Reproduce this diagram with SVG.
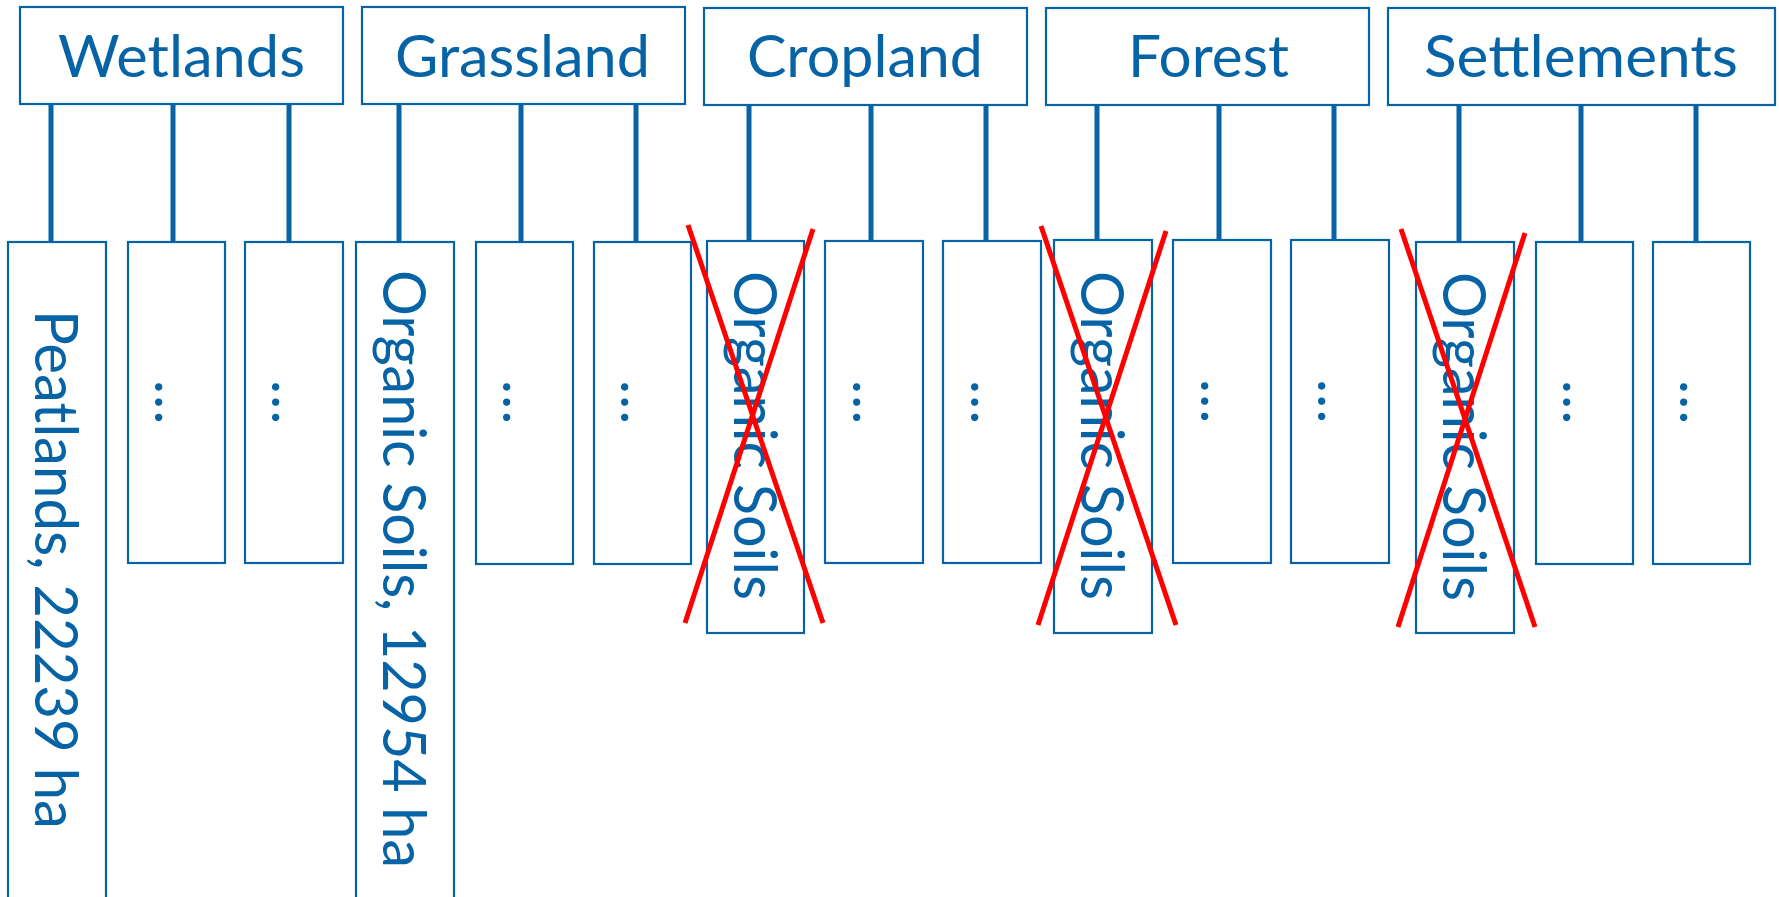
<svg xmlns="http://www.w3.org/2000/svg" width="1779" height="897" viewBox="0 0 1779 897">
  <style>
    .box { fill: #ffffff; stroke: #0663A6; stroke-width: 2.2; }
    .link { stroke: #0663A6; stroke-width: 5; fill: none; }
    .cross { stroke: #FF0000; stroke-width: 5; stroke-linecap: butt; fill: none; }
    .lbl { font-family: Lato, "Open Sans", "Liberation Sans", sans-serif; fill: #0663A6; }
    .head { font-size: 59px; text-anchor: start; }
    .vert { font-size: 60px; text-anchor: start; }
    .dots { font-size: 59px; text-anchor: middle; }
  </style>

  <!-- connectors from category headers down to their sub-boxes -->
  <g id="connectors">
    <line class="link" x1="51" y1="104" x2="51" y2="242"/>
    <line class="link" x1="173" y1="104" x2="173" y2="242"/>
    <line class="link" x1="289" y1="104" x2="289" y2="242"/>
    <line class="link" x1="399" y1="104" x2="399" y2="242"/>
    <line class="link" x1="521" y1="104" x2="521" y2="242"/>
    <line class="link" x1="636" y1="104" x2="636" y2="242"/>
    <line class="link" x1="749" y1="105" x2="749" y2="241"/>
    <line class="link" x1="871" y1="105" x2="871" y2="241"/>
    <line class="link" x1="986" y1="105" x2="986" y2="241"/>
    <line class="link" x1="1097" y1="105" x2="1097" y2="240"/>
    <line class="link" x1="1219" y1="105" x2="1219" y2="240"/>
    <line class="link" x1="1334" y1="105" x2="1334" y2="240"/>
    <line class="link" x1="1459" y1="105" x2="1459" y2="242"/>
    <line class="link" x1="1581" y1="105" x2="1581" y2="242"/>
    <line class="link" x1="1696" y1="105" x2="1696" y2="242"/>
  </g>

  <!-- category headers -->
  <g id="wetlands">
    <rect class="box" x="20" y="7" width="323" height="97"/>
    <text class="lbl head" x="58" y="77" textLength="247" lengthAdjust="spacingAndGlyphs">Wetlands</text>
  </g>
  <g id="grassland">
    <rect class="box" x="362" y="7" width="323" height="97"/>
    <text class="lbl head" x="395" y="77" textLength="255" lengthAdjust="spacingAndGlyphs">Grassland</text>
  </g>
  <g id="cropland">
    <rect class="box" x="704" y="8" width="323" height="97"/>
    <text class="lbl head" x="747" y="77" textLength="236" lengthAdjust="spacingAndGlyphs">Cropland</text>
  </g>
  <g id="forest">
    <rect class="box" x="1046" y="8" width="323" height="97"/>
    <text class="lbl head" x="1128" y="77" textLength="161" lengthAdjust="spacingAndGlyphs">Forest</text>
  </g>
  <g id="settlements">
    <rect class="box" x="1388" y="8" width="387" height="97"/>
    <text class="lbl head" x="1424" y="77" textLength="314" lengthAdjust="spacingAndGlyphs">Settlements</text>
  </g>

  <!-- Wetlands sub-boxes -->
  <g id="wetlands-peatlands">
    <rect class="box" x="8" y="242" width="98" height="670"/>
    <text class="lbl vert" transform="translate(35 310) rotate(90)" textLength="519" lengthAdjust="spacingAndGlyphs">Peatlands, 22239 ha</text>
  </g>
  <g id="wetlands-other-1">
    <rect class="box" x="128" y="242" width="97" height="321"/>
    <text class="lbl dots" transform="translate(155 402) rotate(90)">…</text>
  </g>
  <g id="wetlands-other-2">
    <rect class="box" x="245" y="242" width="98" height="321"/>
    <text class="lbl dots" transform="translate(272 402) rotate(90)">…</text>
  </g>

  <!-- Grassland sub-boxes -->
  <g id="grassland-organic">
    <rect class="box" x="356" y="242" width="98" height="670"/>
    <text class="lbl vert" transform="translate(383 270) rotate(90)" textLength="598" lengthAdjust="spacingAndGlyphs">Organic Soils, 12954 ha</text>
  </g>
  <g id="grassland-other-1">
    <rect class="box" x="476" y="242" width="97" height="322"/>
    <text class="lbl dots" transform="translate(503 402) rotate(90)">…</text>
  </g>
  <g id="grassland-other-2">
    <rect class="box" x="594" y="242" width="97" height="322"/>
    <text class="lbl dots" transform="translate(621 402) rotate(90)">…</text>
  </g>

  <!-- Cropland sub-boxes -->
  <g id="cropland-organic">
    <rect class="box" x="707" y="241" width="97" height="392"/>
    <text class="lbl vert" transform="translate(734 271) rotate(90)" textLength="329" lengthAdjust="spacingAndGlyphs">Organic Soils</text>
    <line class="cross" x1="688" y1="225" x2="823" y2="623"/>
    <line class="cross" x1="813" y1="229" x2="685" y2="623"/>
  </g>
  <g id="cropland-other-1">
    <rect class="box" x="825" y="241" width="98" height="322"/>
    <text class="lbl dots" transform="translate(853 402) rotate(90)">…</text>
  </g>
  <g id="cropland-other-2">
    <rect class="box" x="943" y="241" width="98" height="322"/>
    <text class="lbl dots" transform="translate(971 402) rotate(90)">…</text>
  </g>

  <!-- Forest sub-boxes -->
  <g id="forest-organic">
    <rect class="box" x="1054" y="240" width="98" height="393"/>
    <text class="lbl vert" transform="translate(1081 271) rotate(90)" textLength="329" lengthAdjust="spacingAndGlyphs">Organic Soils</text>
    <line class="cross" x1="1041" y1="226" x2="1176" y2="625"/>
    <line class="cross" x1="1166" y1="231" x2="1038" y2="625"/>
  </g>
  <g id="forest-other-1">
    <rect class="box" x="1173" y="240" width="98" height="323"/>
    <text class="lbl dots" transform="translate(1201 401) rotate(90)">…</text>
  </g>
  <g id="forest-other-2">
    <rect class="box" x="1291" y="240" width="98" height="323"/>
    <text class="lbl dots" transform="translate(1318 401) rotate(90)">…</text>
  </g>

  <!-- Settlements sub-boxes -->
  <g id="settlements-organic">
    <rect class="box" x="1416" y="242" width="98" height="391"/>
    <text class="lbl vert" transform="translate(1443 272) rotate(90)" textLength="329" lengthAdjust="spacingAndGlyphs">Organic Soils</text>
    <line class="cross" x1="1401" y1="229" x2="1535" y2="627"/>
    <line class="cross" x1="1525" y1="233" x2="1398" y2="627"/>
  </g>
  <g id="settlements-other-1">
    <rect class="box" x="1536" y="242" width="97" height="322"/>
    <text class="lbl dots" transform="translate(1563 402) rotate(90)">…</text>
  </g>
  <g id="settlements-other-2">
    <rect class="box" x="1653" y="242" width="97" height="322"/>
    <text class="lbl dots" transform="translate(1680 402) rotate(90)">…</text>
  </g>
</svg>
